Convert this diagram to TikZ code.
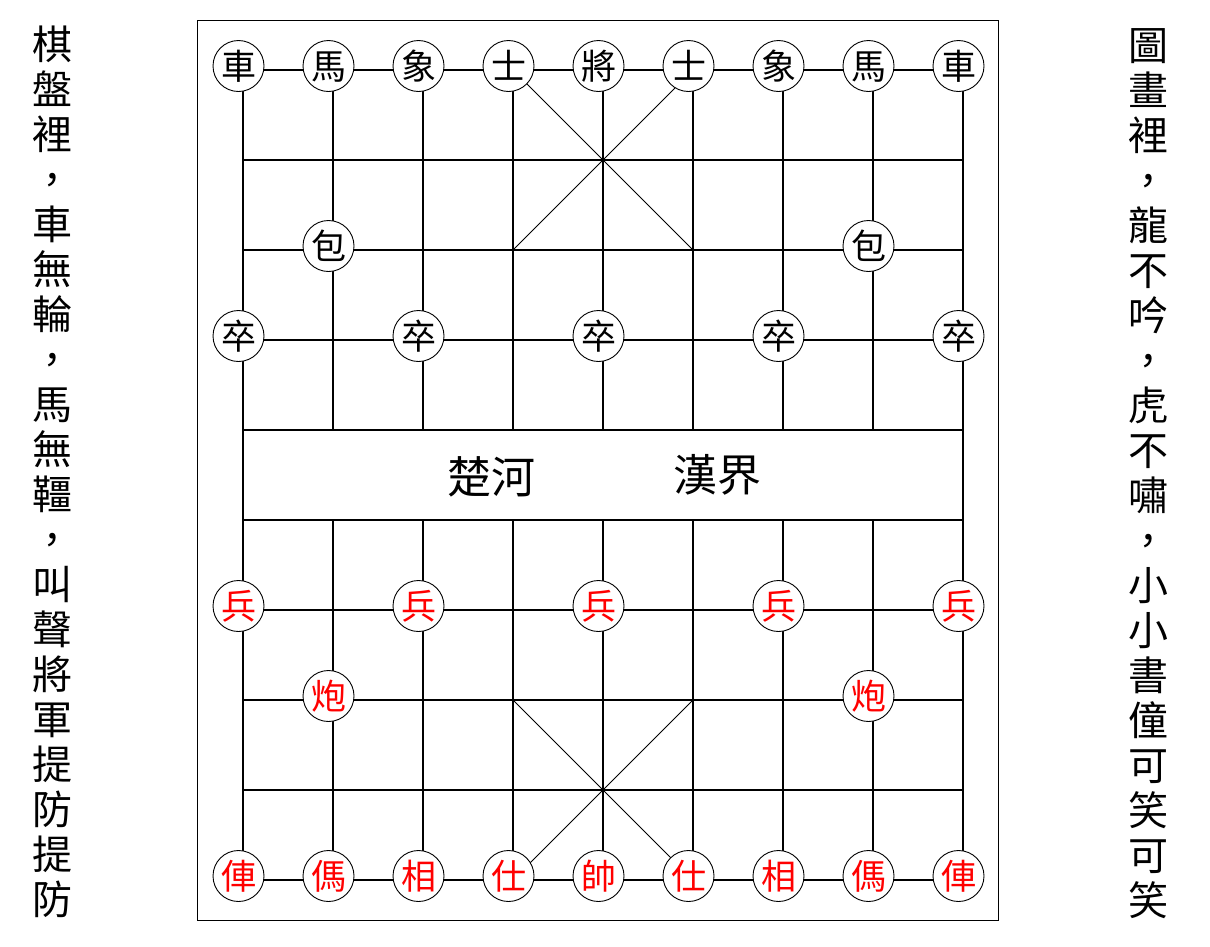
\documentclass[tikz,border=0pt]{standalone}
\usepackage{fontspec}
\setmainfont{Noto Sans CJK TC}
\begin{document}
\begin{tikzpicture}[x=1pt,y=-1pt,
  gridline/.style={line width=2pt, line cap=rect},
  diag/.style={line width=1pt},
  frame/.style={line width=1.3pt},
  piece/.style={circle, draw, line width=0.9pt, fill=white, minimum size=51pt, inner sep=0pt,
    font=\fontsize{35}{35}\selectfont, text height=30.8pt, text depth=4.2pt},
  redpiece/.style={piece, text=red},
  vchar/.style={inner sep=0pt, font=\fontsize{40}{40}\selectfont, text height=35.2pt, text depth=4.8pt},
  river/.style={inner sep=0pt, font=\fontsize{44}{44}\selectfont, text height=38.7pt, text depth=5.3pt}]
\useasboundingbox (0,0) rectangle (1210,946);
% frame
\draw[frame] (197.5,20.5) rectangle (998.5,920.5);
% horizontal lines
\foreach \j in {0,...,9} \draw[gridline] (243,70+90*\j) -- (963,70+90*\j);
% vertical lines
\draw[gridline] (243,70) -- (243,880);
\draw[gridline] (963,70) -- (963,880);
\foreach \i in {1,...,7} {
  \draw[gridline] (243+90*\i,70) -- (243+90*\i,430);
  \draw[gridline] (243+90*\i,520) -- (243+90*\i,880);
}
% palaces
\draw[diag] (513,70) -- (693,250);
\draw[diag] (693,70) -- (513,250);
\draw[diag] (513,700) -- (693,880);
\draw[diag] (693,700) -- (513,880);
% river text
\node[river] (chuhe) at (491,477) {楚河};
\node[river] (hanjie) at (717,475) {漢界};
% black pieces
\foreach \t [count=\i from 0] in {車,馬,象,士,將,士,象,馬,車}
  \node[piece] (b0-\i) at (238.5+90*\i,66) {\t};
\node[piece] (b2-1) at (328.5,246) {包};
\node[piece] (b2-7) at (868.5,246) {包};
\foreach \i in {0,2,4,6,8}
  \node[piece] (b3-\i) at (238.5+90*\i,336) {卒};
% red pieces
\foreach \i in {0,2,4,6,8}
  \node[redpiece] (r6-\i) at (238.5+90*\i,606) {兵};
\node[redpiece] (r7-1) at (328.5,696) {炮};
\node[redpiece] (r7-7) at (868.5,696) {炮};
\foreach \t [count=\i from 0] in {俥,傌,相,仕,帥,仕,相,傌,俥}
  \node[redpiece] (r9-\i) at (238.5+90*\i,876) {\t};
% vertical texts
\foreach \t [count=\i from 0] in {棋,盤,裡,，,車,無,輪,，,馬,無,韁,，,叫,聲,將,軍,提,防,提,防}
  \node[vchar] (L\i) at (52,44+45*\i) {\t};
\foreach \t [count=\i from 0] in {圖,畫,裡,，,龍,不,吟,，,虎,不,嘯,，,小,小,書,僮,可,笑,可,笑}
  \node[vchar] (R\i) at (1148,45+45*\i) {\t};
\end{tikzpicture}
\end{document}
